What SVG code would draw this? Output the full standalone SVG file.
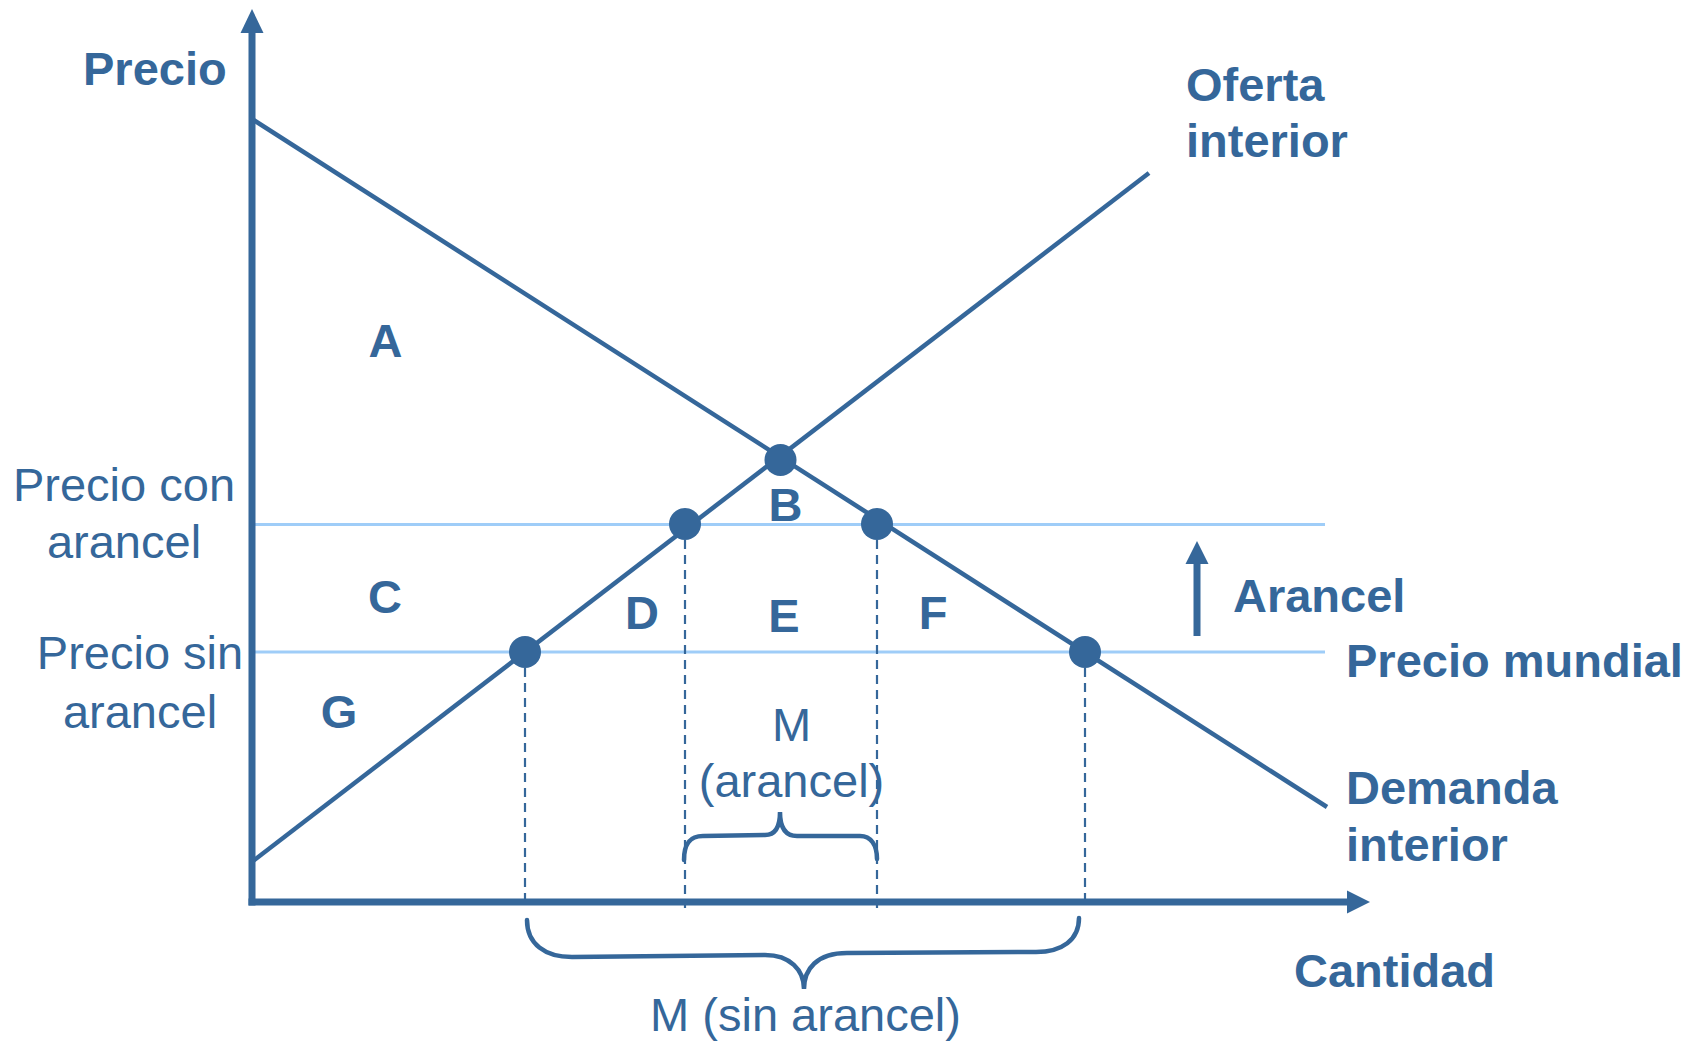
<svg xmlns="http://www.w3.org/2000/svg" width="1688" height="1042" viewBox="0 0 1688 1042">
<style>
.ax{stroke:#35679a;stroke-width:7;fill:none}
.ln{stroke:#35679a;stroke-width:4.5;fill:none}
.pr{stroke:#9fcdf8;stroke-width:3.2;fill:none}
.ds{stroke:#35679a;stroke-width:2.2;stroke-dasharray:9 6;fill:none}
.br{stroke:#35679a;stroke-width:4.5;fill:none;stroke-linecap:round}
.dot{fill:#35679a}
.ah{fill:#35679a}
text{font-family:"Liberation Sans",Arial,sans-serif;fill:#35679a;font-size:47px}
.b{font-weight:bold}
</style>
<rect width="1688" height="1042" fill="#ffffff"/>
<g id="price-lines">
<line class="pr" x1="254" y1="524.5" x2="1325" y2="524.5"/>
<line class="pr" x1="254" y1="652" x2="1325" y2="652"/>
</g>
<g id="connectors">
<line class="ln" x1="252" y1="119" x2="1327" y2="807"/>
<line class="ln" x1="253" y1="861" x2="1149" y2="173"/>
<line class="ds" x1="525" y1="668" x2="525" y2="908"/>
<line class="ds" x1="685" y1="540" x2="685" y2="908"/>
<line class="ds" x1="877" y1="540" x2="877" y2="908"/>
<line class="ds" x1="1085" y1="668" x2="1085" y2="908"/>
<line class="ax" x1="1197" y1="636" x2="1197" y2="560"/>
<polygon class="ah" points="1197,541 1185.5,564 1208.5,564"/>
</g>
<g id="axes">
<line class="ax" x1="252" y1="905.5" x2="252" y2="30"/>
<polygon class="ah" points="252,9 240.5,33 263.5,33"/>
<line class="ax" x1="248.5" y1="902" x2="1350" y2="902"/>
<polygon class="ah" points="1370,902 1347,890.5 1347,913.5"/>
</g>
<g id="dots">
<circle class="dot" cx="780.5" cy="460" r="16"/>
<circle class="dot" cx="685" cy="524" r="16"/>
<circle class="dot" cx="877" cy="524" r="16"/>
<circle class="dot" cx="525" cy="652" r="16"/>
<circle class="dot" cx="1085" cy="652" r="16"/>
</g>
<g id="braces">
<path class="br" d="M684,860 C684,845 689,836 703,836 L765,835 C775,835 780,828 780,812 C780,828 786,836 797,836 L860,836 C871,836 877,845 877,859"/>
<path class="br" d="M527,920 C527,944 545,957 572,957 L765,955 C790,955 804,970 804,989 C804,969 817,953 847,953 L1036,952 C1062,952 1079,940 1079,918"/>
</g>
<g id="labels">
<text class="b" x="83" y="85">Precio</text>
<text class="b" x="1186" y="101">Oferta</text>
<text class="b" x="1186" y="157">interior</text>
<text class="b" x="385.5" y="357" text-anchor="middle">A</text>
<text class="b" x="785.5" y="521" text-anchor="middle">B</text>
<text class="b" x="385" y="613" text-anchor="middle">C</text>
<text class="b" x="642" y="629" text-anchor="middle">D</text>
<text class="b" x="784" y="632" text-anchor="middle">E</text>
<text class="b" x="933" y="629" text-anchor="middle">F</text>
<text class="b" x="339" y="728" text-anchor="middle">G</text>
<text x="124" y="501" text-anchor="middle">Precio con</text>
<text x="124" y="558" text-anchor="middle">arancel</text>
<text x="140" y="669" text-anchor="middle">Precio sin</text>
<text x="140" y="728" text-anchor="middle">arancel</text>
<text class="b" x="1233" y="612">Arancel</text>
<text class="b" x="1346" y="677">Precio mundial</text>
<text class="b" x="1346" y="804">Demanda</text>
<text class="b" x="1346" y="861">interior</text>
<text class="b" x="1294" y="987">Cantidad</text>
<text x="791.5" y="741" text-anchor="middle">M</text>
<text x="791.5" y="797" text-anchor="middle">(arancel)</text>
<text x="805.5" y="1031" text-anchor="middle">M (sin arancel)</text>
</g>
</svg>
